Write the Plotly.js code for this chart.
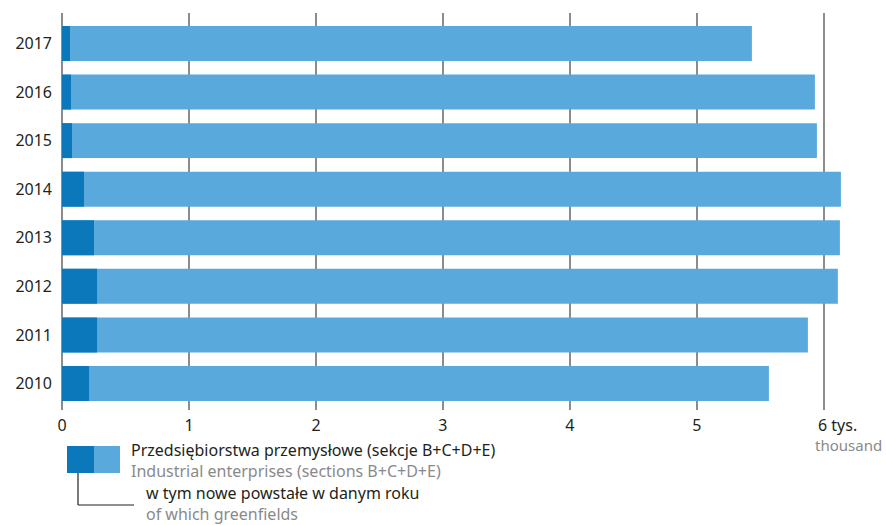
<!DOCTYPE html>
<html><head><meta charset="utf-8">
<script src="https://cdn.plot.ly/plotly-3.0.1.min.js"></script>
<style>body{margin:0;background:#fff}#c{width:886px;height:525px}</style>
</head><body><div id="c"></div>
<script>
const years = ['2010','2011','2012','2013','2014','2015','2016','2017'];
const totalEnterprises = [5.567, 5.874, 6.110, 6.126, 6.134, 5.945, 5.929, 5.433];
const greenfields = [0.213, 0.276, 0.276, 0.252, 0.173, 0.079, 0.071, 0.063];
const xTickVals = [0,1,2,3,4,5,6];
const xTickText = ['0','1','2','3','4','5',''];

const LIGHT = '#5aa9dd', DARK = '#0a78bb';
const font = 'Noto Sans, Open Sans, sans-serif';
const GRAY = '#8a8a8a', INK = '#231f20';

const traces = [
  {type:'bar', orientation:'h', y:years, x:totalEnterprises, marker:{color:LIGHT}, width:0.72, hoverinfo:'x+y'},
  {type:'bar', orientation:'h', y:years, x:greenfields, marker:{color:DARK}, width:0.72, hoverinfo:'x+y'}
];

const L=62, T=13, W=800, H=397;
const px = v => (v-L)/W, py = v => (T+H-v)/H;

const layout = {
  width:886, height:525,
  margin:{l:L, r:886-L-W, t:T, b:525-T-H},
  paper_bgcolor:'#fff', plot_bgcolor:'#fff',
  barmode:'overlay', showlegend:false,
  font:{family:font, size:16, color:INK},
  xaxis:{range:[0,6.3], tickvals:xTickVals, ticktext:xTickText, showgrid:true, gridcolor:'#8c8c8c', gridwidth:1.3,
         zeroline:true, zerolinecolor:'#8c8c8c', zerolinewidth:1.3, showline:false, ticks:'', ticklen:0,
         ticklabelstandoff:4, tickfont:{size:16, color:INK}, fixedrange:true},
  yaxis:{type:'category', categoryorder:'array', categoryarray:years, range:[-0.546, 7.628], showgrid:false, zeroline:false,
         ticks:'', ticklabelstandoff:9, tickfont:{size:16, color:INK}, fixedrange:true},
  shapes:[
    {type:'rect', xref:'paper', yref:'paper', x0:px(67), x1:px(94), y0:py(473), y1:py(446), fillcolor:DARK, line:{width:0}},
    {type:'rect', xref:'paper', yref:'paper', x0:px(94), x1:px(120), y0:py(473), y1:py(446), fillcolor:LIGHT, line:{width:0}},
    {type:'line', xref:'paper', yref:'paper', x0:px(78), x1:px(78), y0:py(473), y1:py(505), line:{color:INK, width:1.2}},
    {type:'line', xref:'paper', yref:'paper', x0:px(78), x1:px(134), y0:py(505), y1:py(505), line:{color:INK, width:1.2}}
  ],
  annotations:[
    {xref:'paper', yref:'paper', x:px(816), y:py(425), text:'6 tys.', showarrow:false, xanchor:'left', yanchor:'middle', font:{size:16,color:INK}},
    {xref:'paper', yref:'paper', x:px(884), y:py(445), text:'thousand', showarrow:false, xanchor:'right', yanchor:'middle', font:{size:15,color:GRAY}},
    {xref:'paper', yref:'paper', x:px(129), y:py(460), align:'left', showarrow:false, xanchor:'left', yanchor:'middle',
     text:'Przedsiębiorstwa przemysłowe (sekcje B+C+D+E)<br><span style="color:'+GRAY+'">Industrial enterprises (sections B+C+D+E)</span>',
     font:{size:16,color:INK}},
    {xref:'paper', yref:'paper', x:px(144), y:py(503), align:'left', showarrow:false, xanchor:'left', yanchor:'middle',
     text:'w tym nowe powstałe w danym roku<br><span style="color:'+GRAY+'">of which greenfields</span>',
     font:{size:16,color:INK}}
  ]
};
Plotly.newPlot('c', traces, layout, {displayModeBar:false, staticPlot:true});
</script></body></html>
